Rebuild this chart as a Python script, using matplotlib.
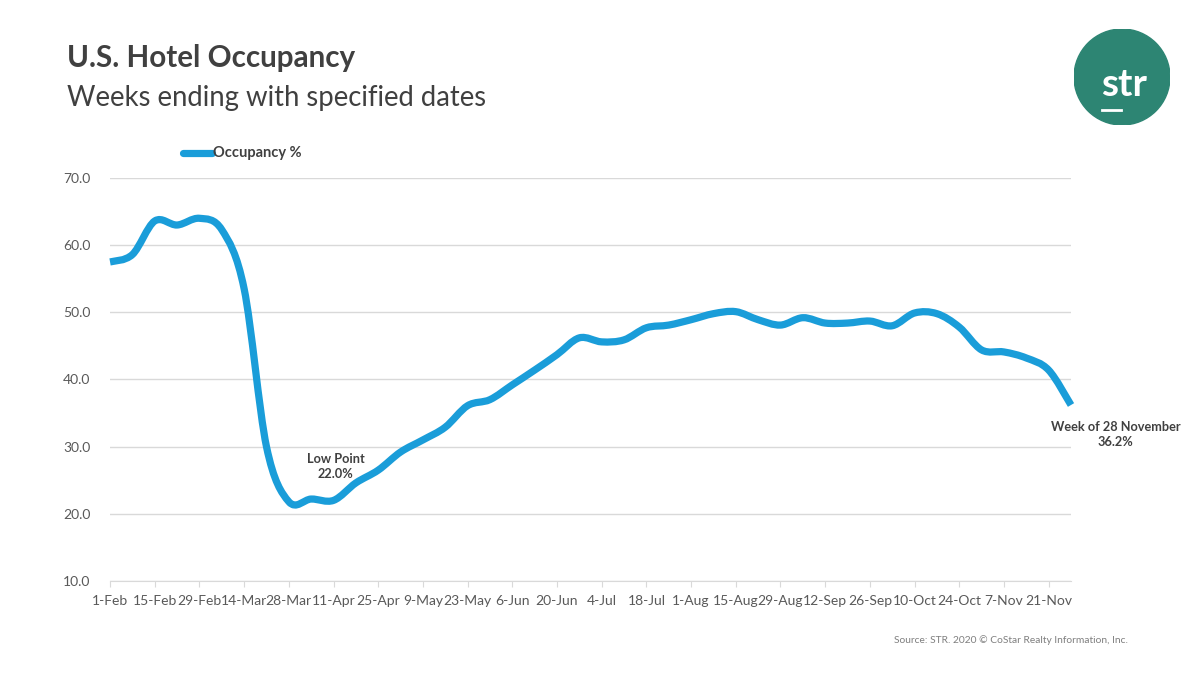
import numpy as np
import matplotlib.pyplot as plt
from matplotlib.patches import Circle, PathPatch
from matplotlib.path import Path

# weekly U.S. hotel occupancy, weeks ending 1-Feb .. 28-Nov 2020
weeks = ['1-Feb', '8-Feb', '15-Feb', '22-Feb', '29-Feb', '7-Mar', '14-Mar', '21-Mar',
         '28-Mar', '4-Apr', '11-Apr', '18-Apr', '25-Apr', '2-May', '9-May', '16-May',
         '23-May', '30-May', '6-Jun', '13-Jun', '20-Jun', '27-Jun', '4-Jul', '11-Jul',
         '18-Jul', '25-Jul', '1-Aug', '8-Aug', '15-Aug', '22-Aug', '29-Aug', '5-Sep',
         '12-Sep', '19-Sep', '26-Sep', '3-Oct', '10-Oct', '17-Oct', '24-Oct', '31-Oct',
         '7-Nov', '14-Nov', '21-Nov', '28-Nov']
occupancy = [57.5, 58.6, 63.6, 63.0, 64.0, 62.3, 53.5, 30.0,
             21.8, 22.2, 22.0, 24.6, 26.5, 29.2, 31.0, 32.9,
             36.1, 37.0, 39.2, 41.4, 43.7, 46.2, 45.6, 45.9,
             47.7, 48.1, 48.9, 49.8, 50.1, 48.9, 48.1, 49.2,
             48.4, 48.4, 48.7, 48.0, 49.9, 49.8, 47.8, 44.4,
             44.1, 43.2, 41.4, 36.2]

line_color = '#1a9dd9'
text_gray = '#595959'
dark = '#404040'

plt.rcParams['font.family'] = ['Lato', 'DejaVu Sans']


def smooth_path(xs, ys):
    # Excel-style "smoothed line": cubic bezier through every data point
    pts = np.column_stack([xs, ys]).astype(float)
    n = len(pts)
    verts = [pts[0]]
    codes = [Path.MOVETO]
    for i in range(n - 1):
        p0 = pts[max(i - 1, 0)]
        p1 = pts[i]
        p2 = pts[i + 1]
        p3 = pts[min(i + 2, n - 1)]
        verts += [p1 + (p2 - p0) / 6, p2 - (p3 - p1) / 6, p2]
        codes += [Path.CURVE4] * 3
    return Path(verts, codes)


fig = plt.figure(figsize=(12, 6.75), dpi=100)
ax = fig.add_axes([0.0917, 0.1393, 0.8008, 0.597])

x = np.arange(len(weeks))
ax.add_patch(PathPatch(smooth_path(x, occupancy), facecolor='none',
                       edgecolor=line_color, lw=5.2, joinstyle='round',
                       capstyle='butt', clip_on=False, zorder=3))

ax.set_xlim(0, len(weeks) - 1)
ax.set_ylim(10, 70)
ax.set_yticks(np.arange(10, 71, 10))
ax.set_yticklabels([f'{v:.1f}' for v in np.arange(10, 71, 10)])
ax.set_xticks(x[::2])
ax.set_xticklabels(weeks[::2])
ax.grid(axis='y', color='#d9d9d9', lw=1)
ax.set_axisbelow(True)
for s in ['top', 'right', 'left']:
    ax.spines[s].set_visible(False)
ax.spines['bottom'].set_color('#d9d9d9')
ax.tick_params(axis='y', length=0, pad=14, labelsize=10, labelcolor=text_gray)
ax.tick_params(axis='x', length=4, color='#d9d9d9', pad=6, labelsize=10,
               labelcolor=text_gray)

# annotations
ax.text(10.1, 25.0, 'Low Point\n22.0%', ha='center', va='bottom', fontsize=9.2,
        fontweight='bold', color=dark, linespacing=1.3)
ax.text(45.0, 29.8, 'Week of 28 November\n36.2%', ha='center', va='bottom',
        fontsize=9.2, fontweight='bold', color=dark, linespacing=1.3)

# legend
fig.lines.append(plt.Line2D([183 / 1200, 212 / 1200], [1 - 153 / 675] * 2,
                            color=line_color, lw=5.2, solid_capstyle='round',
                            transform=fig.transFigure))
fig.text(213 / 1200, 1 - 153 / 675, 'Occupancy %', ha='left', va='center',
         fontsize=10.5, fontweight='bold', color=dark)

# titles
fig.text(67 / 1200, 1 - 58 / 675, 'U.S. Hotel Occupancy', ha='left', va='center',
         fontsize=21.3, fontweight='bold', color=dark)
fig.text(67 / 1200, 1 - 98 / 675, 'Weeks ending with specified dates', ha='left',
         va='center', fontsize=19.8, color=dark)

# logo
logo = fig.add_axes([1074 / 1200, 1 - 125 / 675, 96 / 1200, 96 / 675])
logo.set_xlim(-1, 1)
logo.set_ylim(-1, 1)
logo.set_aspect('equal')
logo.axis('off')
logo.add_patch(Circle((0, 0), 1, color='#2d8573'))
logo.text(0.04, -0.16, 'str', ha='center', va='center', fontsize=28,
          fontweight='bold', color='white')
logo.plot([-0.42, -0.02], [-0.68, -0.68], color='white', lw=2)

fig.text(1128 / 1200, 1 - 640 / 675, 'Source: STR. 2020 \u00a9 CoStar Realty Information, Inc.',
         ha='right', va='center', fontsize=7.4, color='#7f7f7f')

fig.savefig('out.png', dpi=100)
